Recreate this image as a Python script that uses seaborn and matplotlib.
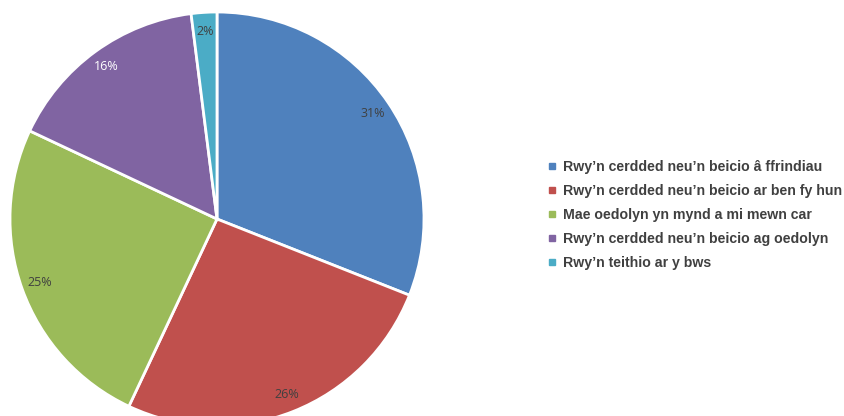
import matplotlib
matplotlib.use("Agg")
import matplotlib.pyplot as plt
import seaborn as sns
from matplotlib.lines import Line2D

# data
labels = [
    "Rwy\u2019n cerdded neu\u2019n beicio \u00e2 ffrindiau",
    "Rwy\u2019n cerdded neu\u2019n beicio ar ben fy hun",
    "Mae oedolyn yn mynd a mi mewn car",
    "Rwy\u2019n cerdded neu\u2019n beicio ag oedolyn",
    "Rwy\u2019n teithio ar y bws",
]
values = [31, 26, 25, 16, 2]
colours = ["#4F81BD", "#C0504D", "#9BBB59", "#8064A2", "#4BACC6"]
pct_colours = ["#404040", "#404040", "#404040", "white", "#404040"]

sns.set_theme(style="white")
plt.rcParams["font.family"] = ["Liberation Sans", "DejaVu Sans"]
palette = sns.color_palette(colours)

fig = plt.figure(figsize=(8.45, 4.16), dpi=100)
ax = fig.add_axes([10 / 845, -10 / 416, 414 / 845, 414 / 416])

wedges, texts, autotexts = ax.pie(
    values,
    colors=palette,
    startangle=90,
    counterclock=False,
    autopct="%d%%",
    pctdistance=0.91,
    radius=1,
    wedgeprops=dict(edgecolor="white", linewidth=2),
    textprops=dict(fontsize=9, family=["Open Sans", "DejaVu Sans"]),
)
for t, c in zip(autotexts, pct_colours):
    t.set_color(c)
ax.set_xlim(-1, 1)
ax.set_ylim(-1, 1)
ax.set_aspect("equal")
ax.axis("off")

handles = [Line2D([0], [0], marker="s", linestyle="none", markersize=4,
                  markerfacecolor=c, markeredgecolor=c) for c in colours]
leg = fig.legend(handles, labels, loc="center left",
                 bbox_to_anchor=(535 / 845, 1 - 215 / 416),
                 frameon=False, handlelength=0.6, handletextpad=0.5,
                 labelspacing=0.7, prop=dict(size=10.2, weight="bold"))
for t in leg.get_texts():
    t.set_color("#404040")

fig.savefig("out.png", dpi=100)
